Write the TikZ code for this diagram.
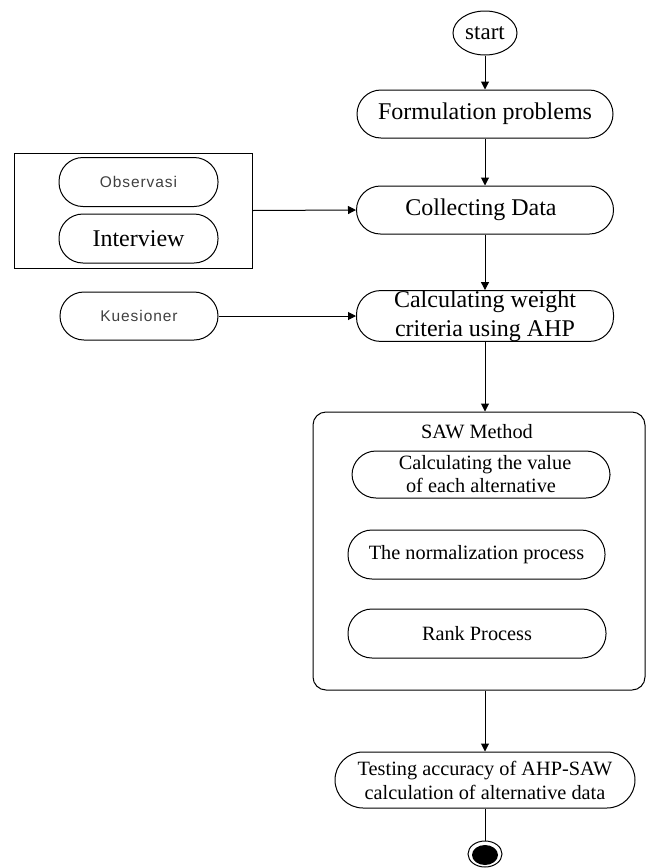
\documentclass[tikz,border=0pt]{standalone}
\usepackage{fontspec}
\setmainfont{Liberation Serif}
\newfontfamily\arialx[LetterSpace=6]{Liberation Sans}
\usetikzlibrary{arrows.meta,shapes.geometric}
\begin{document}
\begin{tikzpicture}[x=1pt,y=-1pt,
  line width=1pt,
  pill/.style={draw, rectangle, rounded corners=#1, inner sep=0pt, align=center},
  pill/.default=24pt,
  arr/.style={-{Triangle[length=8pt,width=8pt]}},
  bigtxt/.style={font=\fontsize{24}{28}\selectfont},
  midtxt/.style={font=\fontsize{20.3}{25}\selectfont},
  smalltxt/.style={font=\fontsize{15.5}{18}\selectfont\arialx, text=black!75}
]
\useasboundingbox (0,0) rectangle (647,868);

% start
\node[draw, ellipse, minimum width=64pt, minimum height=44pt, inner sep=0pt,
      font=\fontsize{23}{26}\selectfont] (start) at (485,33) {start};

\node[pill, bigtxt, minimum width=256pt, minimum height=48pt] (form) at (485,114) {Formulation problems};
\node[pill, bigtxt, minimum width=257pt, minimum height=48pt] (coll) at (485,210) {\hspace*{-8pt}Collecting Data};
\node[pill, font=\fontsize{24}{30}\selectfont, minimum width=257pt, minimum height=48pt] (calc) at (485,316)
  {Calculating weight\\[-1pt]criteria using AHP};

% left group
\node[draw, rectangle, minimum width=238pt, minimum height=115pt, inner sep=0pt] (grp) at (133,210.5) {};
\node[pill, smalltxt, minimum width=159pt, minimum height=49pt] (obs) at (138.5,182) {Observasi};
\node[pill, font=\fontsize{24}{28}\selectfont, minimum width=159pt, minimum height=49pt] (intv) at (138.5,238.5) {Interview};
\node[pill, smalltxt, minimum width=158pt, minimum height=48pt] (kues) at (139,316) {Kuesioner};

% SAW group
\node[draw, rectangle, rounded corners=13pt, minimum width=332pt, minimum height=278pt, inner sep=0pt] (saw) at (479,551) {};
\node[midtxt] (sawt) at (477,432) {SAW Method};
\node[pill, midtxt, minimum width=258pt, minimum height=47pt] (val) at (481,474.5)
  {\hspace*{8pt}Calculating the value\\[-2pt]of each alternative};
\node[pill, midtxt, minimum width=257pt, minimum height=49pt] (norm) at (476.5,554.5) {The normalization process};
\node[pill, midtxt, minimum width=258pt, minimum height=49pt] (rank) at (477,633.5) {Rank Process};

% testing
\node[pill, midtxt, minimum width=300pt, minimum height=56pt, rounded corners=28pt] (test) at (485,780)
  {Testing accuracy of AHP-SAW\\[-1pt]calculation of alternative data};

% end
\node[draw, ellipse, minimum width=34pt, minimum height=26pt, inner sep=0pt] (endo) at (485,854) {};
\node[fill=black, ellipse, minimum width=26pt, minimum height=20pt, inner sep=0pt] (endi) at (485,855) {};

% connectors
\draw[arr] (start) -- (form);
\draw[arr] (form) -- (coll);
\draw[arr] (coll) -- (calc);
\draw[arr] (calc.south) -- (saw.north -| calc.south);
\draw[arr] (saw.south -| test.north) -- (test.north);
\draw (test) -- (endo);
\draw[arr] (grp.east) -- (coll.west);
\draw[arr] (kues) -- (calc);
\end{tikzpicture}
\end{document}
